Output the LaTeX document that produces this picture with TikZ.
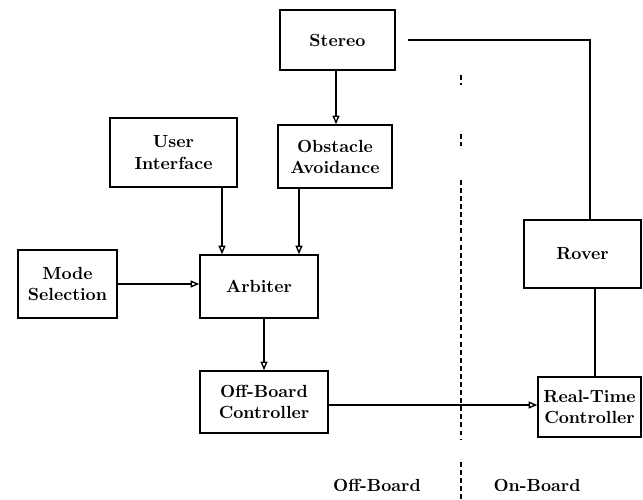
\documentclass[tikz,border=0pt]{standalone}
\usetikzlibrary{arrows.meta}
\begin{document}
\begin{tikzpicture}
  [x=0.02cm,y=-0.02cm,line width=0.8pt,
   every node/.style={draw,rectangle,align=center,font=\bfseries,inner sep=2pt},
   arr/.style={-{Triangle[open,length=5pt,width=4pt]}},
   divline/.style={line width=0.7pt,dash pattern=on 2.8pt off 1.8pt}]
  \useasboundingbox (0,0) rectangle (643,500);

  \node[minimum width=2.30cm,minimum height=1.20cm] (stereo) at (337.5,40) {Stereo};
  \node[minimum width=2.28cm,minimum height=1.26cm] (obst) at (335,156.5) {Obstacle\\Avoidance};
  \node[minimum width=2.54cm,minimum height=1.38cm] (ui) at (173.5,152.5) {User\\Interface};
  \node[minimum width=1.98cm,minimum height=1.36cm] (mode) at (67.5,284) {Mode\\Selection};
  \node[minimum width=2.36cm,minimum height=1.26cm] (arb) at (259,286.5) {Arbiter};
  \node[minimum width=2.56cm,minimum height=1.24cm] (offc) at (264,402) {Off-Board\\Controller};
  \node[minimum width=2.06cm,minimum height=1.20cm] (rtc) at (589.5,407) {Real-Time\\Controller};
  \node[minimum width=2.34cm,minimum height=1.36cm] (rover) at (582.5,254) {Rover};
  \node[draw=none] (offlbl) at (377,485) {Off-Board};
  \node[draw=none] (onlbl) at (537,485) {On-Board};

  \coordinate (xst) at (336,0);
  \coordinate (xui) at (222,0);
  \coordinate (xob) at (299,0);
  \coordinate (xrt) at (590,0);
  \coordinate (xrb) at (595,0);

  \draw[arr] (stereo.south -| xst) -- (obst.north -| xst);
  \draw[arr] (ui.south -| xui) -- (arb.north -| xui);
  \draw[arr] (obst.south -| xob) -- (arb.north -| xob);
  \draw[arr] (mode) -- (mode -| arb.west);
  \draw[arr] (arb.south -| offc) -- (offc);
  \draw[arr] (offc.east |- 0,405) -- (rtc.west |- 0,405);
  \draw[shorten <=0.24cm] (stereo.east) -| (rover.north -| xrt);
  \draw (rover.south -| xrb) -- (rtc.north -| xrb);

  % off-board / on-board split
  \draw[divline] (461,75) -- (461,85);
  \draw[divline] (461,134) -- (461,146);
  \draw[divline] (461,180) -- (461,440);
  \draw[divline] (461,462) -- (461,500);
\end{tikzpicture}
\end{document}
